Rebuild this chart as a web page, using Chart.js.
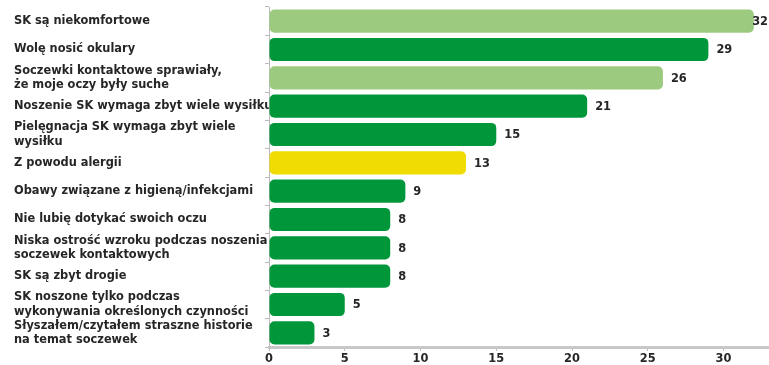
<!DOCTYPE html>
<html>
<head>
<meta charset="utf-8">
<script src="https://cdn.jsdelivr.net/npm/chart.js@4/dist/chart.umd.min.js"></script>
<style>
  html, body { margin: 0; padding: 0; background: #fff; }
  #wrap { width: 769px; height: 365px; }
</style>
</head>
<body>
<div id="wrap"><canvas id="reasons"></canvas></div>
<script>
const categories = [
  'SK są niekomfortowe',
  'Wolę nosić okulary',
  ['Soczewki kontaktowe sprawiały,', 'że moje oczy były suche'],
  'Noszenie SK wymaga zbyt wiele wysiłku',
  ['Pielęgnacja SK wymaga zbyt wiele', 'wysiłku'],
  'Z powodu alergii',
  'Obawy związane z higieną/infekcjami',
  'Nie lubię dotykać swoich oczu',
  ['Niska ostrość wzroku podczas noszenia', 'soczewek kontaktowych'],
  'SK są zbyt drogie',
  ['SK noszone tylko podczas', 'wykonywania określonych czynności'],
  ['Słyszałem/czytałem straszne historie', 'na temat soczewek']
];
const values = [32, 29, 26, 21, 15, 13, 9, 8, 8, 8, 5, 3];
const barKinds = ['light', 'dark', 'light', 'dark', 'dark', 'yellow', 'dark', 'dark', 'dark', 'dark', 'dark', 'dark'];
const xTicks = [0, 5, 10, 15, 20, 25, 30];

const palette = { light: '#9ccb80', dark: '#00963a', yellow: '#f0dc00' };
const FONT = '"DejaVu Sans", Verdana, sans-serif';

// values drawn at the end of each bar (kept inside the canvas)
const valueLabels = {
  id: 'valueLabels',
  afterDatasetsDraw(chart) {
    const ctx = chart.ctx;
    const meta = chart.getDatasetMeta(0);
    ctx.save();
    ctx.font = 'bold 11.4px ' + FONT;
    ctx.fillStyle = '#262626';
    ctx.textBaseline = 'middle';
    meta.data.forEach((bar, i) => {
      const txt = String(values[i]);
      const w = ctx.measureText(txt).width;
      const x = Math.min(bar.x + 8, chart.width - w - 1);
      ctx.fillText(txt, x, bar.y + 1);
    });
    ctx.restore();
  }
};

const ctx = document.getElementById('reasons');
new Chart(ctx, {
  type: 'bar',
  data: {
    labels: categories,
    datasets: [{
      data: values,
      backgroundColor: barKinds.map(k => palette[k]),
      borderRadius: 5,
      borderSkipped: false,
      categoryPercentage: 1,
      barPercentage: 0.82
    }]
  },
  options: {
    indexAxis: 'y',
    responsive: true,
    maintainAspectRatio: false,
    animation: false,
    layout: { padding: { left: 14, top: 7, right: 0, bottom: 0 } },
    plugins: {
      legend: { display: false },
      tooltip: { enabled: false }
    },
    scales: {
      x: {
        min: 0,
        max: 33,
        afterBuildTicks(axis) { axis.ticks = xTicks.map(v => ({ value: v })); },
        afterFit(axis) { axis.paddingLeft = 0; axis.paddingRight = 0; axis.height = 18; },
        grid: { drawOnChartArea: false, tickLength: 4, color: '#bbb' },
        border: { color: '#c8c8c8', width: 3 },
        ticks: {
          color: '#262626',
          padding: 1,
          maxRotation: 0,
          font: { family: FONT, size: 11.4, weight: 'bold' }
        }
      },
      y: {
        afterFit(axis) {
          axis.width = 255;
          axis.paddingTop = 0;
          axis.paddingBottom = 0;
        },
        grid: { drawOnChartArea: false, offset: true, tickLength: 4, color: '#bbb' },
        border: { color: '#bbb', width: 1 },
        ticks: {
          crossAlign: 'far',
          color: '#262626',
          autoSkip: false,
          font: { family: FONT, size: 11.4, weight: 'bold', lineHeight: 1.25 }
        }
      }
    }
  },
  plugins: [valueLabels]
});
</script>
</body>
</html>
